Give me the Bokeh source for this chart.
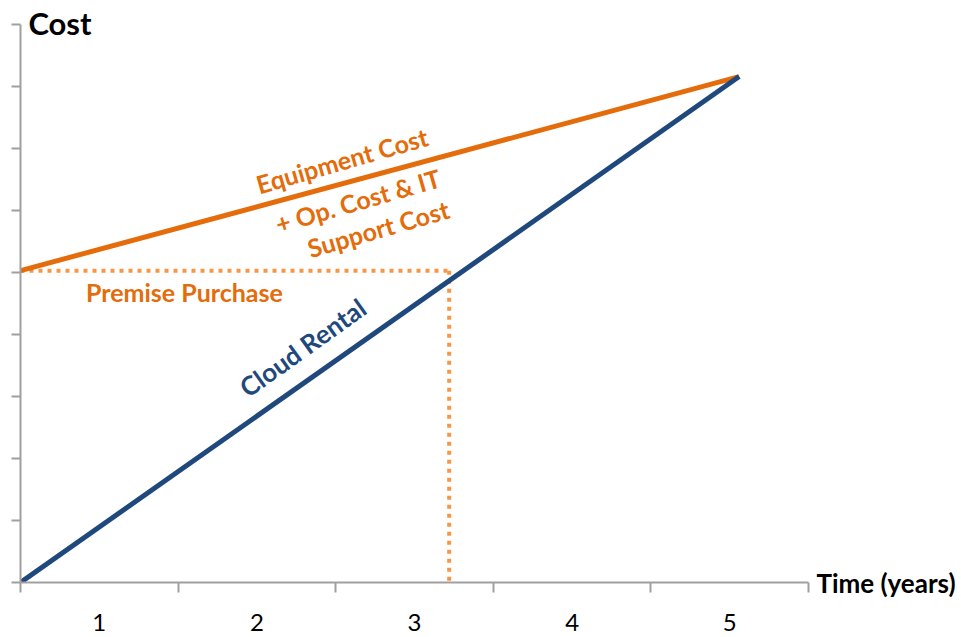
from bokeh.plotting import figure
from bokeh.models import Range1d, FixedTicker, Label, LinearAxis
from bokeh.embed import file_html
from bokeh.resources import INLINE

# ---- data ----
time_years = [0, 4.56]
cloud_rental = [0, 8.16]
premise_purchase = [5.03, 8.16]
breakeven_time = 2.72
premise_level = 5.03
year_labels = ["1", "2", "3", "4", "5"]
year_label_pos = [0.5, 1.5, 2.5, 3.5, 4.5]
year_bounds = [0, 1, 2, 3, 4, 5]
cost_ticks = [0, 1, 2, 3, 4, 5, 6, 7, 8, 9]

FONT = "Lato"
ORANGE = "#E46C0A"
LIGHT_ORANGE = "#F79646"
BLUE = "#1F497D"
GRAY = "#A0A0A0"

# frame reaches the top edge of the page so the "Cost" caption is not clipped;
# the y axis line itself stops at 9 through its bounds
Y_TOP = 9 + 24 / 62.0

p = figure(width=961, height=637, output_backend="svg", toolbar_location=None,
           x_range=Range1d(0, 5), y_range=Range1d(0, Y_TOP),
           min_border_left=20, min_border_right=153, min_border_top=0, min_border_bottom=55)
p.grid.visible = False
p.outline_line_color = None
p.background_fill_color = "white"
p.border_fill_color = "white"

# x axis
xa = p.xaxis[0]
xa.ticker = FixedTicker(ticks=year_label_pos, minor_ticks=year_bounds)
xa.major_label_overrides = {pos: lab for pos, lab in zip(year_label_pos, year_labels)}
xa.major_tick_out = 0
xa.major_tick_in = 0
xa.minor_tick_out = 10
xa.minor_tick_in = 0
xa.minor_tick_line_color = GRAY
xa.minor_tick_line_width = 2
xa.axis_line_color = GRAY
xa.axis_line_width = 2
xa.major_label_standoff = 21
xa.major_label_text_font = FONT
xa.major_label_text_font_size = "24px"
xa.major_label_text_color = "black"

# y axis
ya = p.yaxis[0]
ya.bounds = (0, 9)
ya.ticker = FixedTicker(ticks=[], minor_ticks=cost_ticks)
ya.major_tick_out = 0
ya.major_tick_in = 0
ya.minor_tick_out = 9
ya.minor_tick_in = 0
ya.minor_tick_line_color = GRAY
ya.minor_tick_line_width = 2
ya.axis_line_color = GRAY
ya.axis_line_width = 2
ya.major_label_text_font_size = "0px"

# right-side axis carrying only the "Time (years)" caption next to the x axis end
ra = LinearAxis(ticker=FixedTicker(ticks=[0]), major_label_overrides={0: "Time (years)"})
ra.axis_line_color = None
ra.major_tick_line_color = None
ra.major_tick_out = 0
ra.major_tick_in = 0
ra.major_label_standoff = 8
ra.major_label_text_font = FONT
ra.major_label_text_font_style = "bold"
ra.major_label_text_font_size = "26px"
ra.major_label_text_color = "black"
p.add_layout(ra, "right")

# dotted break-even guides
p.line([0, breakeven_time], [premise_level, premise_level], line_color=LIGHT_ORANGE,
       line_width=4, line_dash="4 5")
p.line([breakeven_time, breakeven_time], [premise_level, 0], line_color=LIGHT_ORANGE,
       line_width=4, line_dash="4 5")

# main lines
p.line(time_years, premise_purchase, line_color=ORANGE, line_width=5)
p.line(time_years, cloud_rental, line_color=BLUE, line_width=5)

# annotations
def txt(x, y, s, color, angle=0.0, size="25px"):
    p.add_layout(Label(x=x, y=y, text=s, text_color=color, angle=angle,
                       text_font=FONT, text_font_style="bold", text_font_size=size,
                       text_align="center", text_baseline="middle"))

txt(2.04, 6.81, "Equipment Cost", ORANGE, 0.28)
txt(2.14, 6.16, "+ Op. Cost & IT", ORANGE, 0.28)
txt(2.27, 5.71, "Support Cost", ORANGE, 0.28)
txt(1.04, 4.68, "Premise Purchase", ORANGE, 0.0)
txt(1.79, 3.79, "Cloud Rental", BLUE, 0.62, "26px")

p.add_layout(Label(x=0.05, y=9.03, text="Cost", text_color="black", text_font=FONT,
                   text_font_style="bold", text_font_size="31px",
                   text_align="left", text_baseline="alphabetic"))

open("out.html", "w").write(file_html(p, INLINE))
